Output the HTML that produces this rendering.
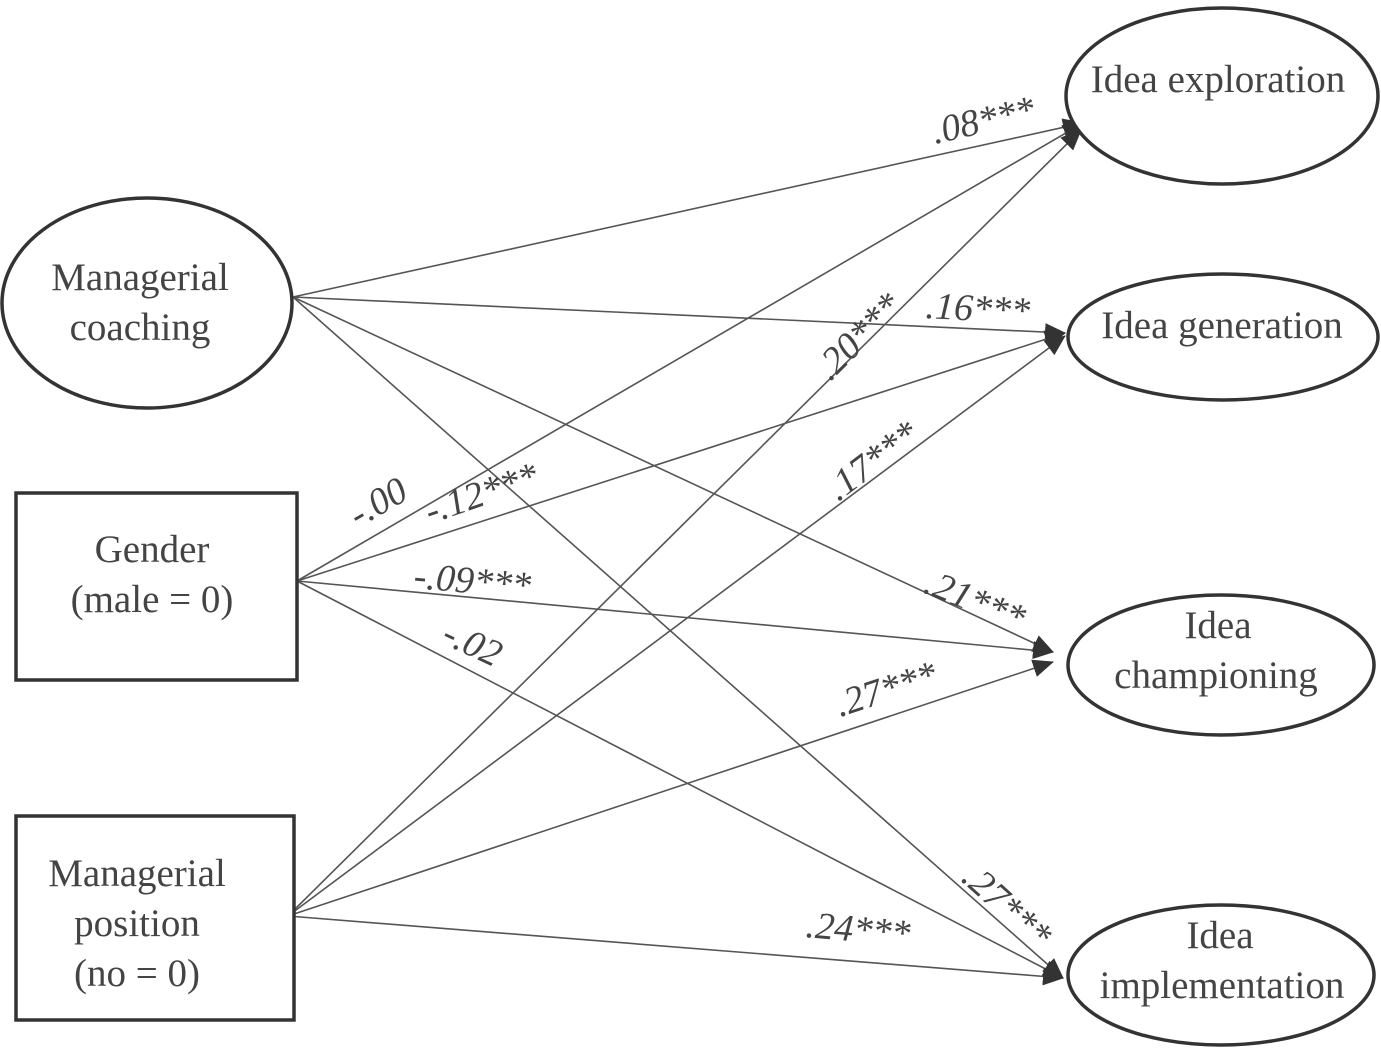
<!DOCTYPE html>
<html><head><style>
html,body{margin:0;padding:0;background:#fff;}
svg{display:block;}
text{font-family:"Liberation Serif",serif;fill:#444;}
.n{font-size:39px;}
.l{font-size:38px;font-style:italic;fill:#555;}
</style></head><body>
<svg width="1381" height="1053" viewBox="0 0 1381 1053">
<defs>
<marker id="b" markerWidth="22" markerHeight="18" refX="20" refY="9" orient="auto" markerUnits="userSpaceOnUse"><path d="M0,0 L21,9 L0,18 Z" fill="#333"/></marker></defs>
<g stroke="#555" stroke-width="1.6" fill="none" marker-end="url(#b)">
<line x1="293" y1="297" x2="1083" y2="123"/>
<line x1="293" y1="297" x2="1065" y2="333"/>
<line x1="293" y1="297" x2="1053" y2="652"/>
<line x1="293" y1="297" x2="1063" y2="978"/>
<line x1="297" y1="581" x2="1083" y2="123"/>
<line x1="297" y1="581" x2="1065" y2="333"/>
<line x1="297" y1="581" x2="1053" y2="652"/>
<line x1="297" y1="581" x2="1063" y2="978"/>
<line x1="288" y1="916" x2="1081" y2="130"/>
<line x1="288" y1="916" x2="1065" y2="336"/>
<line x1="288" y1="916" x2="1053" y2="662"/>
<line x1="288" y1="916" x2="1063" y2="978"/>
</g>
<g stroke="#333" stroke-width="3.5" fill="#fff">
<ellipse cx="147" cy="303" rx="145" ry="105"/>
<rect x="16" y="493" width="281" height="187"/>
<rect x="16" y="816" width="278" height="204"/>
<ellipse cx="1222" cy="96" rx="156" ry="88"/>
<ellipse cx="1223" cy="337" rx="155" ry="63"/>
<ellipse cx="1221" cy="665" rx="153" ry="70"/>
<ellipse cx="1221" cy="975" rx="153" ry="70"/>
</g>
<g class="n" text-anchor="middle">
<text x="140" y="290">Managerial</text><text x="140" y="340">coaching</text>
<text x="152" y="562">Gender</text><text x="152" y="612">(male = 0)</text>
<text x="137" y="886">Managerial</text><text x="137" y="936">position</text><text x="137" y="986">(no = 0)</text>
<text x="1218" y="92">Idea exploration</text>
<text x="1222" y="338">Idea generation</text>
<text x="1218" y="638">Idea</text><text x="1216" y="688">championing</text>
<text x="1220" y="948">Idea</text><text x="1222" y="998">implementation</text>
</g>
<g class="l">
<text transform="translate(935,144) rotate(-13)">.08***</text>
<text transform="translate(925,318) rotate(3)">.16***</text>
<text transform="translate(830,382) rotate(-45)">.20***</text>
<text transform="translate(838,502) rotate(-37)">.17***</text>
<text transform="translate(358,528) rotate(-30)">-.00</text>
<text transform="translate(430,524) rotate(-19)">-.12***</text>
<text transform="translate(413,588) rotate(5)">-.09***</text>
<text transform="translate(440,642) rotate(25)">-.02</text>
<text transform="translate(922,592) rotate(22)">.21***</text>
<text transform="translate(840,717) rotate(-18)">.27***</text>
<text transform="translate(960,880) rotate(42)">.27***</text>
<text transform="translate(805,937) rotate(5)">.24***</text>
</g>
</svg>
</body></html>
